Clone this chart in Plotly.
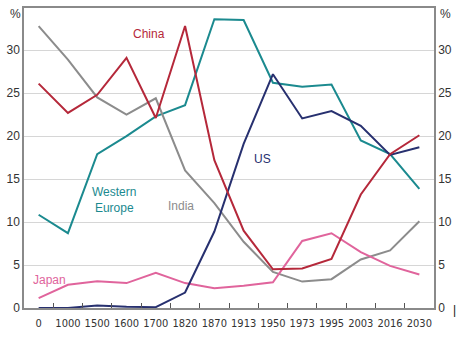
import plotly.graph_objects as go

years = ["0", "1000", "1500", "1600", "1700", "1820", "1870", "1913", "1950", "1973", "1995", "2003", "2016", "2030"]
china = [26.1, 22.7, 24.8, 29.1, 22.1, 32.8, 17.2, 9.0, 4.5, 4.6, 5.7, 13.2, 17.9, 20.1]
western_europe = [10.85, 8.7, 17.9, 20.0, 22.3, 23.6, 33.6, 33.5, 26.2, 25.75, 26.0, 19.5, 17.9, 13.85]
us = [0.0, 0.0, 0.3, 0.15, 0.1, 1.8, 8.9, 19.1, 27.2, 22.05, 22.9, 21.2, 17.8, 18.7]
india = [32.8, 28.9, 24.5, 22.5, 24.4, 16.0, 12.2, 7.7, 4.2, 3.07, 3.35, 5.65, 6.7, 10.1]
japan = [1.15, 2.7, 3.1, 2.9, 4.1, 2.9, 2.3, 2.6, 3.0, 7.8, 8.7, 6.5, 4.9, 3.9]
y_ticks = [0, 5, 10, 15, 20, 25, 30]

series = [
    ("Western Europe", western_europe, "#1b8a8f"),
    ("India", india, "#8c8c8c"),
    ("Japan", japan, "#e0649c"),
    ("US", us, "#27306f"),
    ("China", china, "#b5283a"),
]

fig = go.Figure()
for name, vals, col in series:
    fig.add_trace(go.Scatter(x=years, y=vals, mode="lines", name=name,
                             line=dict(color=col, width=2), showlegend=False))
# invisible trace for the right axis
fig.add_trace(go.Scatter(x=years, y=china, yaxis="y2", mode="lines",
                         line=dict(width=0), opacity=0, showlegend=False, hoverinfo="skip"))

font = dict(family="Liberation Sans, Arial, sans-serif", size=12, color="#333333")
xfont = dict(family="DejaVu Sans Condensed, Liberation Sans, sans-serif",
             size=11, color="#333333")
fig.update_layout(
    width=476, height=344,
    margin=dict(l=18, r=42, t=6, b=36),
    paper_bgcolor="white", plot_bgcolor="white",
    font=font,
    xaxis=dict(type="category", range=[-0.5, 13.5], showline=True, linecolor="#8a8a8a",
               linewidth=1.5, mirror=True, ticks="inside", tickson="boundaries",
               ticklen=5, tickcolor="#555555", showgrid=False, tickfont=xfont,
               tickangle=0, ticklabelstandoff=4),
    yaxis=dict(range=[0, 34.9], tickvals=y_ticks, showline=True, linecolor="#8a8a8a",
               linewidth=1.5, showgrid=True, gridcolor="#d6d6d6", gridwidth=1.2,
               zeroline=False, ticks="", tickfont=font),
    yaxis2=dict(range=[0, 34.9], tickvals=y_ticks, overlaying="y", side="right",
                showline=True, linecolor="#8a8a8a", linewidth=1.5, showgrid=False,
                zeroline=False, ticks="", tickfont=font),
)

annos = [
    dict(text="China", x=145, y=32, color="#b5283a"),
    dict(text="US", x=260, y=158, color="#27306f"),
    dict(text="Western<br>Europe", x=109, y=199, color="#1b8a8f"),
    dict(text="India", x=177, y=205, color="#8c8c8c"),
    dict(text="Japan", x=44, y=280, color="#e0649c"),
    dict(text="%", x=9, y=12, color="#333333"),
    dict(text="%", x=446, y=12, color="#333333"),
    dict(text="|", x=455, y=310, color="#111111"),
]
for a in annos:
    fig.add_annotation(text=a["text"], xref="paper", yref="paper",
                       x=(a["x"] - 18) / 416, y=(308 - a["y"]) / 302,
                       showarrow=False, xanchor="center", yanchor="middle",
                       font=dict(family="Liberation Sans, Arial, sans-serif", size=12, color=a["color"]))

fig.write_html("out.html")
